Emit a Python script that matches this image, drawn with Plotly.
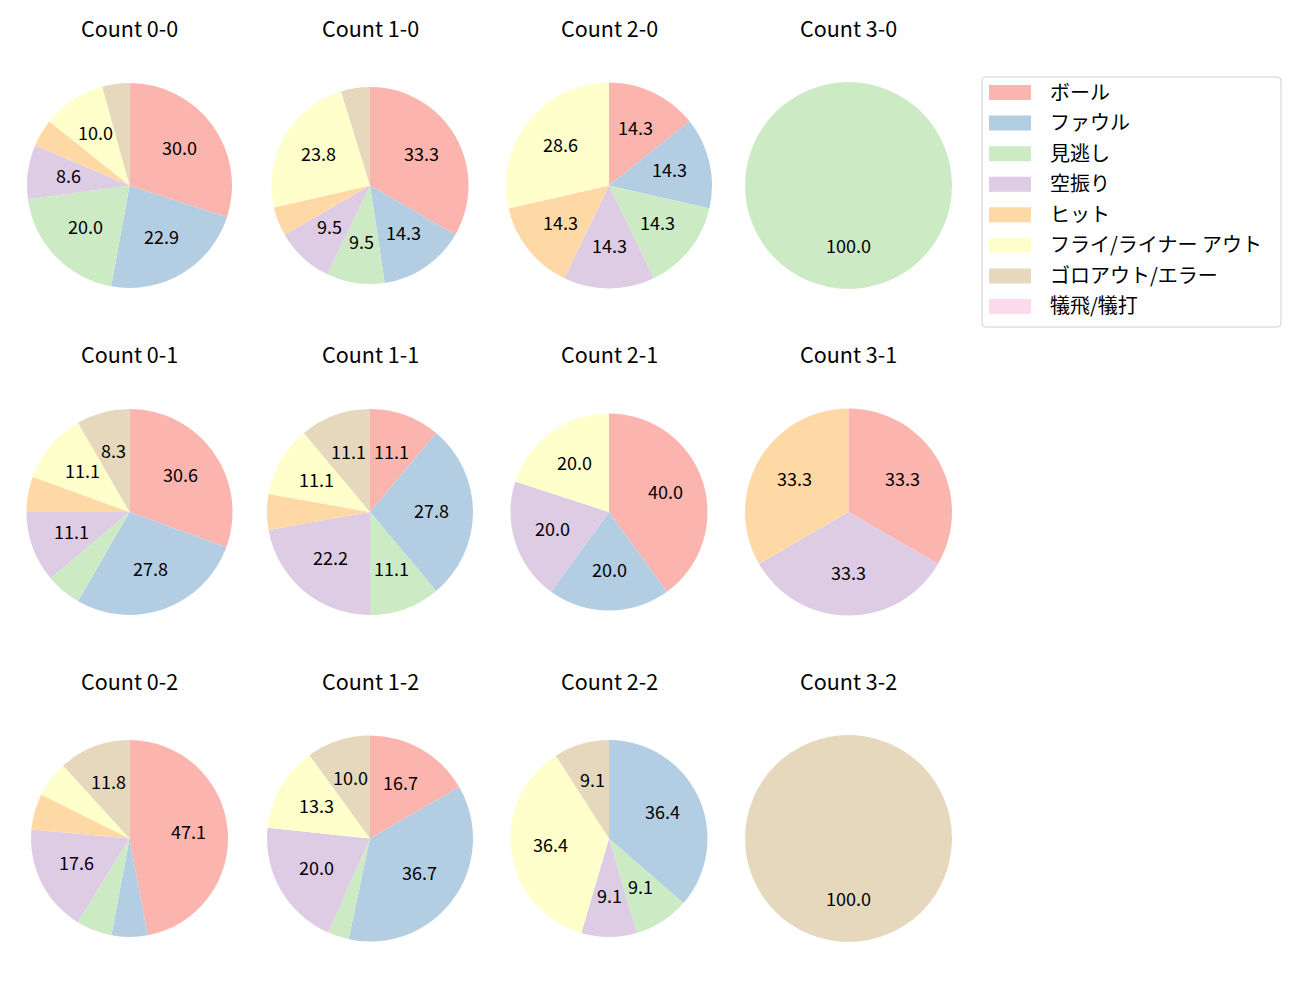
import math
import plotly.graph_objects as go

# ---------------- data ----------------
categories = ["ボール", "ファウル", "見逃し", "空振り", "ヒット",
              "フライ/ライナー アウト", "ゴロアウト/エラー", "犠飛/犠打"]
colors = ["#fbb4ae", "#b3cde3", "#ccebc5", "#decbe4",
          "#fed9a6", "#ffffcc", "#e5d8bd", "#fddaec"]

titles = ["Count 0-0", "Count 1-0", "Count 2-0", "Count 3-0",
          "Count 0-1", "Count 1-1", "Count 2-1", "Count 3-1",
          "Count 0-2", "Count 1-2", "Count 2-2", "Count 3-2"]

count_0_0 = [21, 16, 14, 6, 3, 7, 3, 0]
count_1_0 = [7, 3, 2, 2, 1, 5, 1, 0]
count_2_0 = [1, 1, 1, 1, 1, 2, 0, 0]
count_3_0 = [0, 0, 1, 0, 0, 0, 0, 0]
count_0_1 = [11, 10, 2, 4, 2, 4, 3, 0]
count_1_1 = [2, 5, 2, 4, 1, 2, 2, 0]
count_2_1 = [2, 1, 0, 1, 0, 1, 0, 0]
count_3_1 = [1, 0, 0, 1, 1, 0, 0, 0]
count_0_2 = [8, 1, 1, 3, 1, 1, 2, 0]
count_1_2 = [5, 11, 1, 6, 0, 4, 3, 0]
count_2_2 = [0, 4, 1, 1, 0, 4, 1, 0]
count_3_2 = [0, 0, 0, 0, 0, 0, 1, 0]

all_counts = [count_0_0, count_1_0, count_2_0, count_3_0,
              count_0_1, count_1_1, count_2_1, count_3_1,
              count_0_2, count_1_2, count_2_2, count_3_2]

# ---------------- layout ----------------
W, H = 1300, 1000
OFF = 8  # page body margin
col_cx = [129.5, 370, 609, 848.5]
row_cy = [185.5, 512, 838.5]
radius = [102.5, 98.5, 103, 103.5,
          103, 103, 98.5, 103.5,
          98.5, 103, 98.5, 103.5]
title_offset = 156.5
label_dist = 0.6
min_pct = 7.0

FONT = "Noto Sans CJK JP, Noto Sans, DejaVu Sans, sans-serif"
TITLE_SIZE = 21.5
LABEL_SIZE = 18
LEGEND_SIZE = 20


def px2x(x):
    return (x - OFF) / W


def px2y(y):
    return 1 - (y - OFF) / H


fig = go.Figure()
annotations = []

for k, vals in enumerate(all_counts):
    r_i, c_i = divmod(k, 4)
    cx, cy, rad = col_cx[c_i], row_cy[r_i], radius[k]
    fig.add_trace(go.Pie(
        labels=categories,
        values=vals,
        marker=dict(colors=colors, line=dict(width=0)),
        sort=False,
        direction="clockwise",
        rotation=0,
        textinfo="none",
        hoverinfo="label+percent",
        showlegend=False,
        domain=dict(x=[px2x(cx - rad), px2x(cx + rad)],
                    y=[px2y(cy + rad), px2y(cy - rad)]),
    ))
    total = sum(vals)
    cum = 0
    for v in vals:
        if v > 0:
            pct = v / total * 100
            if pct >= min_pct:
                mid = (cum + v / 2) / total * 2 * math.pi
                lx = cx + label_dist * rad * math.sin(mid)
                ly = cy - label_dist * rad * math.cos(mid)
                annotations.append(dict(
                    x=px2x(lx), y=px2y(ly), xref="paper", yref="paper",
                    text=f"{pct:.1f}", showarrow=False,
                    xanchor="center", yanchor="middle", yshift=2.5,
                    font=dict(family=FONT, size=LABEL_SIZE, color="black")))
        cum += v
    annotations.append(dict(
        x=px2x(cx), y=px2y(cy - title_offset), xref="paper", yref="paper",
        text=titles[k], showarrow=False, xanchor="center", yanchor="middle",
        yshift=1.5,
        font=dict(family=FONT, size=TITLE_SIZE, color="black")))

# ---------------- legend (drawn manually) ----------------
shapes = []
lx0, lx1, ly0, ly1 = 982, 1281, 77, 327
cr = 4


def P(x, y):
    return f"{px2x(x):.6f},{px2y(y):.6f}"


path = (f"M {P(lx0 + cr, ly0)} L {P(lx1 - cr, ly0)} Q {P(lx1, ly0)} {P(lx1, ly0 + cr)} "
        f"L {P(lx1, ly1 - cr)} Q {P(lx1, ly1)} {P(lx1 - cr, ly1)} "
        f"L {P(lx0 + cr, ly1)} Q {P(lx0, ly1)} {P(lx0, ly1 - cr)} "
        f"L {P(lx0, ly0 + cr)} Q {P(lx0, ly0)} {P(lx0 + cr, ly0)} Z")
shapes.append(dict(type="path", xref="paper", yref="paper", path=path,
                   line=dict(color="#d0d0d0", width=1), fillcolor="rgba(255,255,255,0.8)"))

row0 = 92.5
row_step = 30.57
for i, (lab, col) in enumerate(zip(categories, colors)):
    yc = row0 + i * row_step
    shapes.append(dict(type="rect", xref="paper", yref="paper",
                       x0=px2x(989), x1=px2x(1031),
                       y0=px2y(yc + 7.5), y1=px2y(yc - 7.5),
                       line=dict(width=0), fillcolor=col))
    annotations.append(dict(
        x=px2x(1048), y=px2y(yc), xref="paper", yref="paper",
        text=lab, showarrow=False, xanchor="left", yanchor="middle",
        yshift=1.5,
        font=dict(family=FONT, size=LEGEND_SIZE, color="black")))

fig.update_layout(
    width=W, height=H,
    margin=dict(l=0, r=0, t=0, b=0),
    paper_bgcolor="white",
    plot_bgcolor="white",
    annotations=annotations,
    shapes=shapes,
    showlegend=False,
)

fig.write_html("out.html")
